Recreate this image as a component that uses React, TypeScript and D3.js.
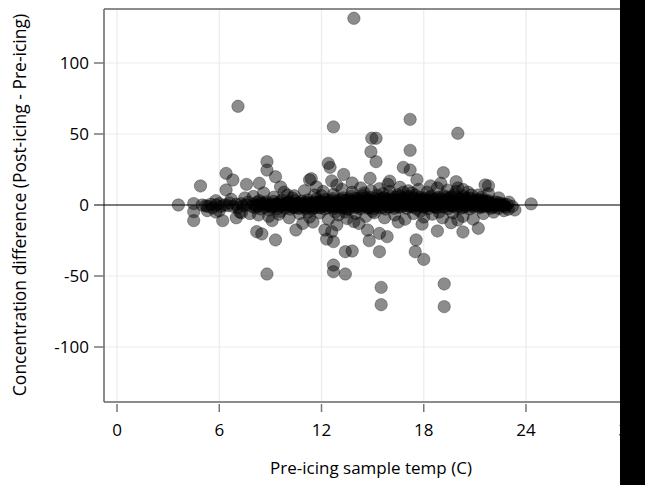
import React from 'react';
import * as d3 from 'd3';

// pre-icing temp (C), concentration difference
const outlierPoints: [number, number][] = [
  [13.9, 131.5], [7.1, 69.5], [12.7, 55], [17.2, 60.3], [20.0, 50.5], [14.95, 47], [15.2, 47],
  [14.9, 37.5], [15.2, 30.5], [17.2, 38.5], [16.8, 26.5], [17.2, 24.6], [17.6, 17.8], [13.3, 21.5],
  [13.8, 15.5], [14.85, 18.8], [16.0, 16.8], [19.15, 22.8], [19.0, 15.3], [19.9, 16.4], [20.3, 11],
  [21.6, 14.1], [21.8, 13.5], [12.4, 29.3], [12.5, 26.5], [12.6, 17], [11.4, 18.5], [11.3, 17.6],
  [11.7, 12.7], [10.0, 7], [9.6, 12.7], [9.3, 19.9], [8.8, 30.5], [8.8, 24.6], [8.35, 15.3],
  [7.6, 14.5], [6.8, 17.6], [6.4, 22.3], [6.4, 10.6], [4.9, 13.4], [3.6, 0], [4.5, 1], [4.5, -4.7],
  [4.5, -11], [24.3, 0.8], [22.96, -3], [5.2, -0.5], [5.8, -5],
  [8.2, -18.8], [8.5, -20.4], [9.3, -24.6], [8.8, -48.6], [10.5, -17.6], [12.7, -25.8], [12.7, -42.3],
  [12.7, -47], [12.6, -18.8], [13.4, -48.6], [13.4, -32.9], [13.8, -32.4], [14.8, -25.1],
  [14.7, -17.6], [15.4, -32.9], [15.5, -58], [15.5, -70.2], [17.55, -24.6], [17.5, -32.9],
  [18.0, -38.3], [18.8, -18.3], [19.2, -55.6], [19.2, -71.6], [21.2, -16.4], [20.3, -19],
  [12.9, -14], [15.4, -20], [15.85, -22.3], [12.2, -17.6], [13.9, -11.7], [20.0, -10.6],
  [6.2, -11], [7.0, -9], [12.3, -24],
];

const spreadPoints: [number, number][] = [
  [7.3, -5.5], [8.0, 6], [8.3, -7], [8.6, 8.5], [8.9, -8], [9.2, 5.5], [9.5, -6.5], [9.8, 9],
  [10.1, -9], [10.4, 6.5], [10.7, -6], [11.0, 10], [11.3, -8.5], [11.6, 7], [11.9, -5.5], [12.1, 9.5],
  [12.4, -10], [12.7, 7.5], [13.0, -7], [13.2, 11], [13.5, -9.5], [13.8, 9], [14.0, -6], [14.3, 12],
  [14.6, -8], [14.9, 10], [15.1, -5.5], [15.4, 11.5], [15.7, -9], [16.0, 9.5], [16.3, -7], [16.6, 12.5],
  [16.9, -10], [17.1, 10], [17.4, -6], [17.7, 11], [18.0, -8.5], [18.2, 9], [18.5, -6.5], [18.8, 12],
  [19.1, -9], [19.4, 10.5], [19.7, -5.5], [20.0, 12], [20.3, -8], [20.6, 9], [20.9, -10], [21.2, 7],
  [21.5, -6], [21.8, 8], [22.1, -5], [22.4, 5], [22.7, -4], [23.0, 2], [23.2, -1], [23.35, -3.5],
  [10.9, -13], [12.9, 14], [14.2, -13], [15.9, 14.5], [17.9, -13.5], [19.6, -12.5], [11.5, -12],
  [9.1, -11], [16.5, -12], [18.4, 13.5],
  [9.6, -4.5], [10.3, 5], [11.2, -5], [12.0, 6.5], [13.4, -5], [14.5, 8.5], [15.6, 8], [16.8, 9],
  [17.3, 8.5], [18.9, -5], [19.9, 9.5], [20.8, 7], [21.4, 5.5], [15.0, -4.5], [17.8, -4.5], [12.8, -5],
];

const bandPoints: [number, number][] = [
  [5.0, 0], [5.3, -1], [5.5, 0.5], [5.6, -2], [5.8, 0], [6.0, 1], [6.1, -1], [6.3, 0], [6.5, -0.5],
  [6.6, 1.5], [6.8, -1], [7.0, 0.5], [7.1, -2], [7.3, 1], [7.4, -0.5], [7.6, 0], [7.7, 2], [7.9, -1],
  [5.3, -4], [5.8, 3], [6.0, -4], [6.7, 4], [7.2, -5], [7.5, 5], [7.8, -6],
  [8.05, 0.5], [8.12, -2], [8.2, 1.8], [8.28, -0.8], [8.35, 3], [8.42, -2.8], [8.5, 0], [8.6, 1.2],
  [8.68, -1.5], [8.75, 2.2], [8.85, -0.3], [8.93, -3.5],
  [9.02, 1], [9.1, -1.8], [9.18, 2.6], [9.25, -0.5], [9.33, 0.8], [9.42, -2.6], [9.5, 1.9], [9.58, -1],
  [9.66, 3.5], [9.75, 0.2], [9.84, -2.2], [9.92, 1.4],
  [10.02, -0.6], [10.1, 2.4], [10.18, -2.9], [10.26, 0.9], [10.35, -1.3], [10.43, 3.2], [10.5, 0],
  [10.6, -2], [10.68, 1.6], [10.77, -0.4], [10.85, 2.8], [10.94, -1.6],
  [11.03, 0.4], [11.1, -2.4], [11.2, 3.6], [11.27, -0.9], [11.36, 1.3], [11.44, -3], [11.52, 2.1],
  [11.6, -0.2], [11.7, 4.2], [11.78, -1.7], [11.86, 0.7], [11.95, 2.9],
  [12.02, -1.2], [12.1, 1.8], [12.18, -2.7], [12.26, 3.9], [12.35, 0.1], [12.42, -1.9], [12.5, 2.5],
  [12.58, -0.7], [12.67, 4.6], [12.75, -2.4], [12.84, 1], [12.92, 3.1],
  [13.02, -0.3], [13.1, 2.2], [13.18, -2.1], [13.26, 5], [13.34, 0.6], [13.42, -1.4], [13.5, 3.4],
  [13.58, -3], [13.66, 1.5], [13.75, 6], [13.83, -0.8], [13.92, 2.6],
  [14.02, -1.8], [14.1, 4.3], [14.18, 0.3], [14.26, -2.6], [14.35, 2], [14.43, 6.5], [14.5, -0.6],
  [14.6, 3.2], [14.68, -2.2], [14.76, 1.1], [14.85, 5.4], [14.94, -1],
  [15.02, 2.7], [15.1, -2.5], [15.18, 0.8], [15.26, 6.8], [15.34, -0.4], [15.42, 3.9], [15.5, -1.9],
  [15.58, 1.7], [15.66, 5.2], [15.75, -2.9], [15.83, 0.2], [15.92, 3.3],
  [16.02, -1.1], [16.1, 6], [16.18, 1.4], [16.26, -2.3], [16.35, 3.7], [16.43, 0], [16.5, 7.2],
  [16.6, -1.6], [16.68, 2.4], [16.76, 4.8], [16.85, -0.5], [16.94, 1.9],
  [17.02, -2.4], [17.1, 3], [17.18, 5.8], [17.26, 0.5], [17.34, -1.3], [17.42, 2.1], [17.5, 6.9],
  [17.58, -2.7], [17.66, 1.2], [17.75, 4.1], [17.83, -0.2], [17.92, 2.9],
  [18.02, -1.5], [18.1, 4.9], [18.18, 0.7], [18.26, -2.6], [18.35, 2.6], [18.43, 6.2], [18.5, -0.8],
  [18.6, 3.5], [18.68, 1], [18.76, -2], [18.85, 5.5], [18.94, 0.3],
  [19.02, 2.3], [19.1, -1.4], [19.18, 6.6], [19.26, 0.9], [19.34, 3.8], [19.42, -2.5], [19.5, 1.6],
  [19.58, 5], [19.66, -0.6], [19.75, 2.8], [19.83, 7.4], [19.92, -1.8],
  [20.02, 0.6], [20.1, 4.4], [20.18, -2.2], [20.26, 2], [20.35, 6.1], [20.43, -0.9], [20.5, 3.1],
  [20.6, 0.2], [20.68, -2.8], [20.76, 4.6], [20.85, 1.3], [20.94, -1.2],
  [21.02, 2.5], [21.1, -0.4], [21.18, 4], [21.26, -2], [21.35, 1.4], [21.43, 3.3], [21.5, -1.3],
  [21.6, 0.7], [21.68, 2.6], [21.76, -0.8], [21.85, 1.8], [21.94, -2.3],
  [22.02, 0.9], [22.1, -1.6], [22.2, 2.1], [22.3, 0], [22.4, -2.4], [22.5, 1.3], [22.6, -0.7],
  [22.7, 0.5], [22.8, -1.4], [22.9, 0.3],
  [10.15, 0.3], [10.3, -1], [10.55, 1.2], [10.7, -2.4], [10.8, 0.5], [10.95, 0.9],
  [11.15, 1.6], [11.3, -1.5], [11.45, 0.2], [11.65, -0.8], [11.8, 2], [11.92, -2],
  [12.05, 0.8], [12.22, -0.5], [12.38, 2.2], [12.55, -1.3], [12.7, 0.5], [12.88, -0.9],
  [13.05, 1.2], [13.22, -1.7], [13.38, 0.4], [13.55, 2], [13.7, -1], [13.88, 0.9],
  [14.05, 1.5], [14.22, -0.9], [14.4, 0.7], [14.56, 1.9], [14.72, -1.3], [14.9, 0.4],
  [15.05, -0.8], [15.22, 1.9], [15.38, 0.1], [15.55, 2.3], [15.7, -1.1], [15.88, 1],
  [16.05, 0.9], [16.22, -0.7], [16.4, 2.1], [16.55, 0.4], [16.72, -1.2], [16.9, 1.5],
  [17.05, 0.6], [17.22, -1], [17.38, 1.8], [17.55, 0.1], [17.72, -0.8], [17.88, 2],
  [18.05, 1.3], [18.22, -0.6], [18.4, 2.2], [18.55, 0.5], [18.72, -1.4], [18.9, 1],
  [19.05, 0.5], [19.22, -1.2], [19.38, 1.6], [19.55, 0.2], [19.72, -0.9], [19.88, 2.5],
  [20.05, -0.5], [20.22, 1.1], [20.4, 0], [20.55, 1.8], [20.72, -1.1], [20.9, 0.6],
  [21.05, 0.2], [21.22, 1.2], [21.4, -0.6], [21.55, 1.7], [21.72, 0.3], [21.9, -1],
  [8.15, -0.5], [8.45, 1.5], [8.8, 0.4], [9.15, -0.9], [9.45, 0.6], [9.8, -0.2], [10.05, 1.5],
  [10.4, -1.8], [10.65, 0.2], [10.9, -0.9], [11.08, 1.8], [11.4, 0.9], [11.55, -1.9], [11.9, 1.1],
  [12.12, -0.2], [12.3, 1.4], [12.6, 3.4], [12.8, -1.6], [13.12, 0.2], [13.3, 3.1], [13.46, -2.5],
  [13.62, 4.2], [13.8, 0.6], [13.98, 4.6], [14.14, -1.3], [14.3, 3.6], [14.46, 1.2], [14.64, 5],
  [14.82, -2], [14.98, 2.2], [15.14, 4.5], [15.3, -1.6], [15.46, 2.6], [15.62, 0.5], [15.8, 4.4],
  [15.96, -1.5], [16.14, 2.9], [16.3, 5.4], [16.46, -1.2], [16.64, 3.9], [16.8, 0.9], [16.98, 5.8],
  [17.14, -0.8], [17.3, 4.3], [17.46, 0], [17.62, 3.1], [17.8, 5.3], [17.96, -1], [18.14, 3.3],
  [18.3, 0.1], [18.46, 4.4], [18.64, -1.2], [18.8, 2.8], [18.98, 4.2], [19.14, 0.4], [19.3, 5.4],
  [19.46, -0.5], [19.62, 3.2], [19.8, 0.8], [19.96, 5.2], [20.14, 1.6], [20.3, -1.6], [20.46, 4.2],
  [20.64, 2.1], [20.8, -0.2], [20.98, 3.3], [21.14, 1], [21.3, -1.1], [21.46, 2.4], [21.64, -0.3],
  [21.8, 3], [21.98, 0.5], [22.15, -0.5], [22.35, 1.6], [22.55, 0.1], [22.75, -0.4],
  [9.0, -0.4], [9.55, 0.3], [10.2, -0.8], [10.75, 1], [11.25, 0.1], [11.75, 1.4], [12.15, 0.4],
  [12.45, -0.4], [12.95, 1.7], [13.15, 3.8], [13.4, 1.2], [13.68, 2.7], [13.95, -0.5], [14.15, 2.6],
  [14.38, 4.8], [14.6, 0.1], [14.8, 3.6], [15.08, 1.1], [15.3, 3], [15.52, 4.6], [15.72, 2.4],
  [15.95, 0.6], [16.16, 4.2], [16.38, 1.3], [16.58, 5.8], [16.78, 2.6], [17.0, 4], [17.2, 1.6],
  [17.42, 4.9], [17.65, 0.6], [17.85, 3.8], [18.08, 2.3], [18.3, 5.2], [18.52, 1.8], [18.74, 4.5],
  [18.95, 1.9], [19.18, 3.4], [19.4, 1.2], [19.62, 6], [19.85, 1.6], [20.08, 3.2], [20.3, 0.9],
  [20.52, 4.9], [20.75, 0.9], [21.0, 1.7], [21.25, 3], [21.5, 0.5], [21.75, 1.9],
];

const xTicks = [0, 6, 12, 18, 24, 30];
const yTicks = [-100, -50, 0, 50, 100];

const W = 645;
const H = 485;
const plot = { left: 104, top: 9, bottom: 402, right: 645 };
const font = '"Open Sans", sans-serif';

export default function App() {
  const x = d3.scaleLinear().domain([0, 24]).range([117, 526]);
  const y = d3.scaleLinear().domain([-100, 100]).range([347, 63]);

  const allPoints = [...outlierPoints, ...spreadPoints, ...bandPoints];

  return (
    <svg width={W} height={H} style={{ position: 'absolute', left: 0, top: 0, background: '#fff' }}>
      <rect x={0} y={0} width={W} height={H} fill="#fff" />
      {/* grid */}
      {xTicks.map(t => (
        <line key={'gx' + t} x1={x(t)} x2={x(t)} y1={plot.top} y2={plot.bottom} stroke="#ebebeb" strokeWidth={1.2} />
      ))}
      {yTicks.map(t => (
        <line key={'gy' + t} x1={plot.left} x2={plot.right} y1={y(t)} y2={y(t)} stroke="#ebebeb" strokeWidth={1.2} />
      ))}
      {/* frame */}
      <line x1={plot.left} x2={plot.right} y1={plot.top} y2={plot.top} stroke="#666" strokeWidth={1.5} />
      <line x1={plot.left} x2={plot.right} y1={plot.bottom} y2={plot.bottom} stroke="#666" strokeWidth={1.5} />
      <line x1={plot.left} x2={plot.left} y1={plot.top} y2={plot.bottom} stroke="#666" strokeWidth={1.5} />
      {/* zero line */}
      <line x1={94} x2={plot.right} y1={y(0)} y2={y(0)} stroke="#000" strokeWidth={1} />
      {/* y ticks */}
      {yTicks.map(t => (
        <g key={'ty' + t}>
          {t !== 0 && <line x1={94} x2={plot.left} y1={y(t)} y2={y(t)} stroke="#777" strokeWidth={1.5} />}
          <text x={89} y={y(t)} dy="0.35em" textAnchor="end" fontFamily={font} fontSize={17} fill="#000">{t}</text>
        </g>
      ))}
      {/* x ticks */}
      {xTicks.map(t => (
        <g key={'tx' + t}>
          <line x1={x(t)} x2={x(t)} y1={plot.bottom + 2} y2={plot.bottom + 10} stroke="#777" strokeWidth={1.5} />
          <text x={x(t)} y={430} dy="0.35em" textAnchor="middle" fontFamily={font} fontSize={17} fill="#000">{t}</text>
        </g>
      ))}
      {/* points */}
      {allPoints.map((p, i) => (
        <circle key={i} cx={x(p[0])} cy={y(p[1])} r={6.2} fill="rgba(0,0,0,0.45)" stroke="rgba(0,0,0,0.3)" strokeWidth={1} />
      ))}
      {/* titles */}
      <text x={371} y={468} dy="0.35em" textAnchor="middle" fontFamily={font} fontSize={17} fill="#000">Pre-icing sample temp (C)</text>
      <text transform={`translate(20,${y(0)}) rotate(-90)`} dy="0.35em" textAnchor="middle" fontFamily={font} fontSize={17.5} fill="#000">
        Concentration difference (Post-icing - Pre-icing)
      </text>
      <rect x={620} y={0} width={25} height={H} fill="#000" />
    </svg>
  );
}
